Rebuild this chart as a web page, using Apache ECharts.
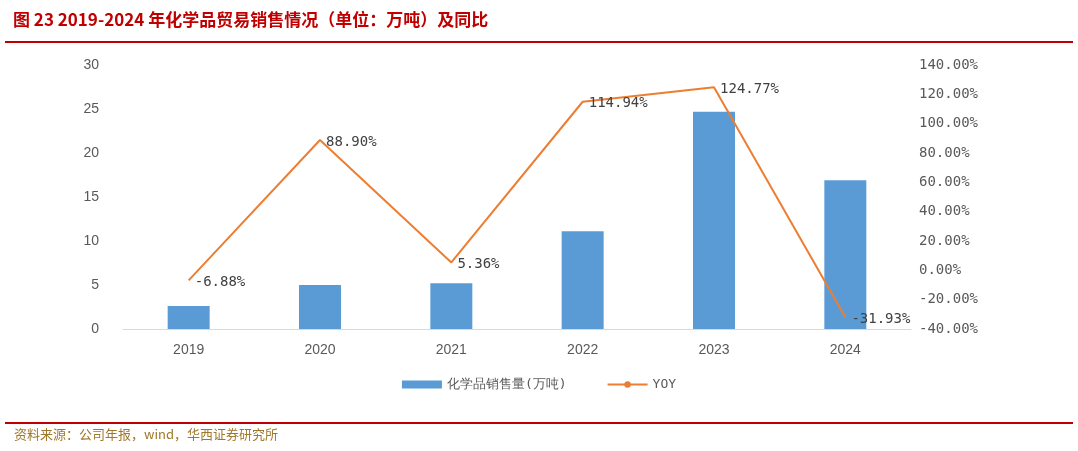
<!DOCTYPE html>
<html><head><meta charset="utf-8">
<script src="https://cdn.jsdelivr.net/npm/echarts@6/dist/echarts.min.js"></script>
<style>body{margin:0}#c{width:1078px;height:451px}</style></head>
<body><div id="c"></div>
<script>
var years = ['2019', '2020', '2021', '2022', '2023', '2024'];
var volume = [2.6, 5.0, 5.2, 11.1, 24.7, 16.9];
var yoy = [-6.88, 88.90, 5.36, 114.94, 124.77, -31.93];

var chart = echarts.init(document.getElementById('c'));
var mono = 'DejaVu Sans Mono';
chart.setOption({
    animation: false,
    title: {
        text: '图 23 2019-2024 年化学品贸易销售情况（单位：万吨）及同比',
        left: 8, top: 6,
        textStyle: { color: '#C00000', fontSize: 17, fontWeight: 'bold', fontFamily: 'Noto Sans CJK SC' }
    },
    graphic: [
        { type: 'line', shape: { x1: 5, y1: 42, x2: 1073, y2: 42 }, style: { stroke: '#C00000', lineWidth: 2 } },
        { type: 'line', shape: { x1: 5, y1: 423, x2: 1073, y2: 423 }, style: { stroke: '#C00000', lineWidth: 2 } },
        { type: 'text', left: 14, top: 428, style: { text: '资料来源：公司年报，wind，华西证券研究所', fill: '#A0782A', fontSize: 13, fontFamily: 'Noto Sans CJK SC' } }
    ],
    legend: {
        bottom: 55, itemGap: 40, itemWidth: 40, itemHeight: 8,
        textStyle: { color: '#595959', fontSize: 13, fontFamily: mono },
        data: [{ name: '化学品销售量(万吨)', icon: 'rect' }, { name: 'YOY' }]
    },
    grid: { left: 123, right: 167, top: 65, bottom: 122 },
    xAxis: {
        type: 'category', data: years,
        axisLine: { lineStyle: { color: '#D9D9D9' } }, axisTick: { show: false },
        axisLabel: { color: '#595959', fontSize: 14, margin: 14 }
    },
    yAxis: [
        { type: 'value', min: 0, max: 30, interval: 5, splitLine: { show: false },
          axisLabel: { color: '#595959', fontSize: 14, margin: 24 } },
        { type: 'value', min: -40, max: 140, interval: 20, splitLine: { show: false },
          axisLabel: { color: '#595959', fontSize: 14, fontFamily: mono, formatter: function (v) { return v.toFixed(2) + '%'; } } }
    ],
    series: [
        { name: '化学品销售量(万吨)', type: 'bar', data: volume, barWidth: 42, itemStyle: { color: '#5B9BD5' } },
        { name: 'YOY', type: 'line', yAxisIndex: 1, data: yoy, symbol: 'circle', symbolSize: 0.1, showSymbol: true,
          lineStyle: { color: '#ED7D31', width: 2 }, itemStyle: { color: '#ED7D31' },
          label: { show: true, position: 'right', distance: 6, offset: [0, 2], color: '#404040', fontSize: 14, fontFamily: mono,
                   formatter: function (p) { return p.value.toFixed(2) + '%'; } } }
    ]
});
</script></body></html>
